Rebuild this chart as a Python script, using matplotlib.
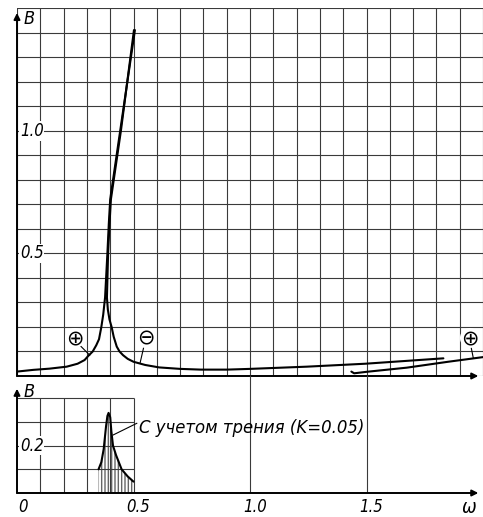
"""Resonance curves B(omega): free branches (top) and with friction K=0.05 (inset)."""

import numpy as np
import matplotlib.pyplot as plt

# --- branch "+" below resonance, runs up the backbone
plus_w = [0.0, 0.07, 0.14, 0.213, 0.26, 0.29, 0.306, 0.325, 0.34, 0.352,
          0.362, 0.370, 0.378, 0.388, 0.394, 0.40, 0.443, 0.506]
plus_B = [0.018, 0.025, 0.03, 0.038, 0.05, 0.065, 0.082, 0.10, 0.125, 0.15,
          0.20, 0.25, 0.32, 0.50, 0.62, 0.72, 1.0, 1.41]

# --- branch "-" comes down the backbone and runs right
minus_w = [0.502, 0.446, 0.403, 0.397, 0.391, 0.386, 0.39, 0.397, 0.406,
           0.415, 0.428, 0.44, 0.455, 0.475, 0.50, 0.55, 0.61, 0.70, 0.79,
           0.90, 1.0, 1.243, 1.494, 1.83]
minus_B = [1.41, 1.0, 0.72, 0.62, 0.50, 0.32, 0.27, 0.23, 0.20,
           0.16, 0.12, 0.10, 0.085, 0.07, 0.058, 0.045, 0.035, 0.029, 0.026,
           0.026, 0.029, 0.038, 0.050, 0.072]

# --- high-frequency "+" branch
high_w = [1.435, 1.447, 1.5, 1.673, 1.85, 2.0]
high_B = [0.018, 0.011, 0.017, 0.034, 0.058, 0.077]

# --- with friction (inset)
fric_w = [0.35, 0.362, 0.372, 0.382, 0.388, 0.393, 0.400, 0.405, 0.412,
          0.425, 0.449, 0.475, 0.50]
fric_B = [0.10, 0.13, 0.185, 0.28, 0.325, 0.338, 0.32, 0.26, 0.20,
          0.16, 0.10, 0.07, 0.048]

xtick_vals = [0.0, 0.5, 1.0, 1.5]
xtick_text = ["0", "0.5", "1.0", "1.5"]

GRID = "#3a3a3a"
FONT = dict(family="DejaVu Sans", style="italic", fontstretch="condensed")

fig = plt.figure(figsize=(4.83, 5.17), dpi=100)

# ---------------- main plot
ax = fig.add_axes([17 / 483, 141 / 517, 466 / 483, 368 / 517])
ax.set_xlim(0, 2.0)
ax.set_ylim(0, 1.5)
ax.set_xticks(np.arange(0, 2.01, 0.1))
ax.set_yticks(np.arange(0, 1.51, 0.1))
ax.grid(True, color=GRID, linewidth=0.8)
ax.tick_params(length=0, labelbottom=False, labelleft=False)
for s in ax.spines.values():
    s.set_visible(False)

for w, b in [(plus_w, plus_B), (minus_w, minus_B), (high_w, high_B)]:
    ax.plot(w, b, color="black", lw=1.5, solid_capstyle="round",
            solid_joinstyle="round")

# axes with arrows
ax.annotate("", xy=(0, 1.48), xytext=(0, 0), annotation_clip=False,
            arrowprops=dict(arrowstyle="-|>", lw=1.4, color="black",
                            mutation_scale=9, shrinkA=0, shrinkB=0))
ax.annotate("", xy=(1.98, 0), xytext=(0, 0), annotation_clip=False,
            arrowprops=dict(arrowstyle="-|>", lw=1.4, color="black",
                            mutation_scale=9, shrinkA=0, shrinkB=0))
ax.text(0.03, 1.455, "B", fontsize=13, va="center", ha="left", **FONT)

for v in (0.5, 1.0):
    ax.text(0.012, v, f"{v:.1f}", fontsize=12, va="center", ha="left",
            bbox=dict(boxstyle="square,pad=0.05", fc="white", ec="none"), **FONT)

# branch markers
marks = [("⊕", 0.249, 0.155, (0.27, 0.125), (0.312, 0.085)),
         ("⊖", 0.552, 0.155, (0.545, 0.122), (0.528, 0.052)),
         ("⊕", 1.944, 0.155, (1.948, 0.122), (1.958, 0.075))]
for sym, mx, my, p0, p1 in marks:
    ax.text(mx, my, sym, fontsize=15, ha="center", va="center",
            family="DejaVu Sans",
            bbox=dict(boxstyle="circle,pad=0.0", fc="white", ec="none"))
    ax.plot([p0[0], p1[0]], [p0[1], p1[1]], color="black", lw=0.8)

# ---------------- inset with friction
ax2 = fig.add_axes([17 / 483, 24 / 517, 466 / 483, 118.5 / 517])
ax2.set_xlim(0, 2.0)
ax2.set_ylim(0, 0.5)
ax2.axis("off")
ax2.vlines(np.arange(0.1, 0.51, 0.1), 0, 0.4, color=GRID, lw=0.8)
ax2.hlines(np.arange(0.1, 0.41, 0.1), 0, 0.5, color=GRID, lw=0.8)
ax2.vlines([1.0, 1.5], 0, 0.5, color=GRID, lw=0.8)

ax2.fill_between(fric_w, 0, fric_B, facecolor="none", edgecolor="#666666",
                 hatch="|||||", linewidth=0)
ax2.plot(fric_w, fric_B, color="black", lw=1.5, solid_capstyle="round",
         solid_joinstyle="round")

ax2.annotate("", xy=(0, 0.44), xytext=(0, 0), annotation_clip=False,
             arrowprops=dict(arrowstyle="-|>", lw=1.4, color="black",
                             mutation_scale=9, shrinkA=0, shrinkB=0))
ax2.annotate("", xy=(1.98, 0), xytext=(0, 0), annotation_clip=False,
             arrowprops=dict(arrowstyle="-|>", lw=1.4, color="black",
                             mutation_scale=9, shrinkA=0, shrinkB=0))
ax2.text(0.03, 0.425, "B", fontsize=13, va="center", ha="left", **FONT)
ax2.text(0.012, 0.2, "0.2", fontsize=12, va="center", ha="left",
         bbox=dict(boxstyle="square,pad=0.05", fc="white", ec="none"), **FONT)

ax2.text(0.525, 0.275, "С учетом трения (K=0.05)", fontsize=13.2,
         va="center", ha="left", **FONT)
ax2.plot([0.514, 0.413], [0.294, 0.245], color="black", lw=0.8)

# bottom labels
for v, t in zip(xtick_vals, xtick_text):
    ax2.text(v + (0.025 if v == 0 else 0.02), -0.06, t, fontsize=12,
             ha="center", va="center", **FONT)
ax2.text(1.94, -0.06, "ω", fontsize=14, ha="center", va="center", **FONT)

fig.savefig("out.png", dpi=100, facecolor="white")
